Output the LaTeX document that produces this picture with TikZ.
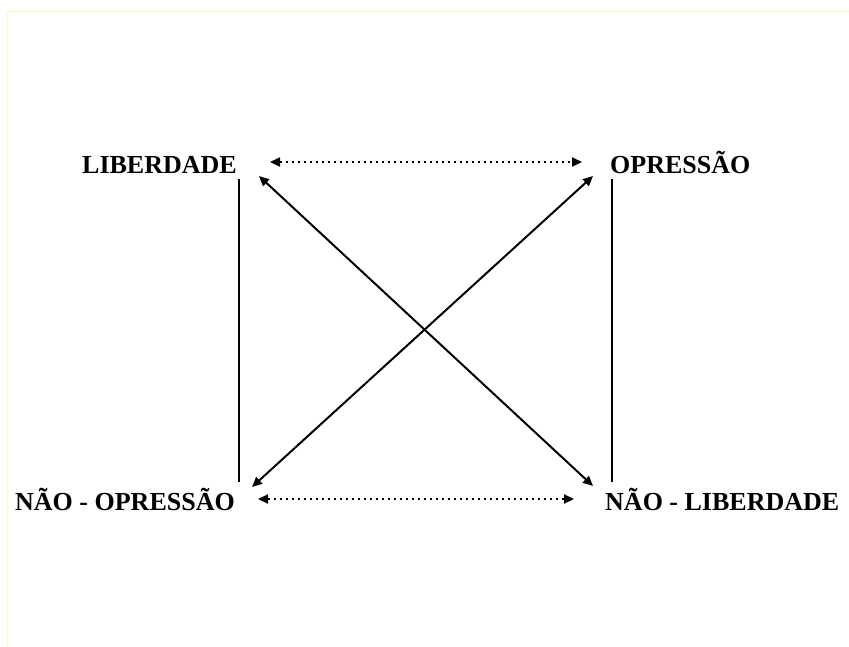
\documentclass[tikz,border=0pt]{standalone}
\usepackage{fontspec}
\setmainfont{Liberation Serif}
\usetikzlibrary{arrows.meta}
\begin{document}
\begin{tikzpicture}[x=1pt,y=-1pt,
  lbl/.style={inner sep=0pt, font=\fontsize{26}{30}\selectfont\bfseries},
  solidline/.style={line width=2pt},
  arr/.style={line width=2pt, -{Triangle[length=10pt,width=9pt]}},
  dotarr/.style={line width=2pt, dash pattern=on 2pt off 4pt,
     {Triangle[length=10pt,width=9pt]}-{Triangle[length=10pt,width=9pt]}},
  frameline/.style={draw={rgb,255:red,255;green,248;blue,190}, line width=1pt}]
\useasboundingbox (0,0) rectangle (849,646);
\draw[frameline] (7,646) -- (7,11) -- (849,11);

\node[lbl, anchor=base west] (lib) at (82,173) {LIBERDADE};
\node[lbl, anchor=base west] (opr) at (610,173) {OPRESSÃO};
\node[lbl, anchor=base west] (nopr) at (15,510) {NÃO - OPRESSÃO};
\node[lbl, anchor=base west] (nlib) at (605,510) {NÃO - LIBERDADE};

\coordinate (lvt) at (239,179);
\coordinate (lvb) at (239,482);
\coordinate (rvt) at (612,179);
\coordinate (rvb) at (612,482);
\coordinate (dtl) at (270,162);
\coordinate (dtr) at (582,162);
\coordinate (dbl) at (258,499);
\coordinate (dbr) at (574,499);
\coordinate (d1a) at (259,176);
\coordinate (d1b) at (593,486);
\coordinate (d2a) at (593,176);
\coordinate (d2b) at (252,487);

\draw[solidline] (lvt) -- (lvb);
\draw[solidline] (rvt) -- (rvb);
\draw[dotarr] (dtl) -- (dtr);
\draw[dotarr] (dbl) -- (dbr);
\draw[arr, {Triangle[length=10pt,width=9pt]}-{Triangle[length=10pt,width=9pt]}] (d1a) -- (d1b);
\draw[arr, {Triangle[length=10pt,width=9pt]}-{Triangle[length=10pt,width=9pt]}] (d2a) -- (d2b);
\end{tikzpicture}
\end{document}
